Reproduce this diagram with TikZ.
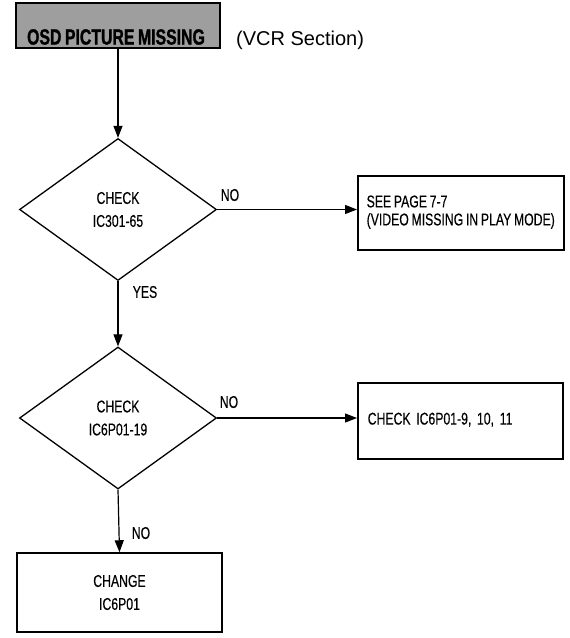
\documentclass[tikz,border=0pt]{standalone}
\usepackage{fontspec}
\setmainfont{Liberation Sans}
\newfontfamily\cond[FakeStretch=0.72,WordSpace=0.8,FakeBold=0.3]{Liberation Sans}
\newfontfamily\titlef[FakeStretch=0.72,FakeBold=1.2,WordSpace=0.8]{Liberation Sans Bold}
\usetikzlibrary{shapes.geometric,arrows.meta}
\begin{document}
\begin{tikzpicture}[x=1pt,y=-1pt,
  every node/.style={font=\cond\fontsize{17}{19}\selectfont},
  arr/.style={line width=1.2pt,-{Triangle[length=12pt,width=9pt]}},
  box/.style={draw,line width=1.5pt,rectangle,inner sep=0pt},
  dia/.style={draw,line width=1.3pt,diamond,minimum width=197pt,minimum height=142pt,inner sep=0pt,align=center,font=\cond\fontsize{17}{23}\selectfont},
  lbl/.style={font=\cond\fontsize{17}{19}\selectfont,inner sep=0pt}]
\useasboundingbox (0,0) rectangle (570,638);
% title
\node[box, fill=black!38, line width=2pt, minimum width=204pt, minimum height=45pt] (title) at (118,25.5) {};
\node[inner sep=0pt, font=\titlef\fontsize{22}{24}\selectfont] (titletext) at (116,37) {OSD PICTURE MISSING};
\node[font=\fontsize{20}{22}\selectfont, anchor=west, inner sep=0pt] (vcr) at (236,40) {(VCR Section)};
% decisions
\node[dia] (d1) at (118,209.5) {CHECK\\IC301-65};
\node[dia] (d2) at (118,418) {CHECK\\IC6P01-19};
% boxes
\node[box, anchor=north west, minimum width=206pt, minimum height=74pt, font=\cond\fontsize{17}{18}\selectfont] (b1) at (357,175) {\begin{tabular}{@{}l@{}}SEE PAGE 7-7\\(VIDEO MISSING IN PLAY MODE)\end{tabular}};
\node[box, anchor=north west, minimum width=205pt, minimum height=76pt, text width=185pt, inner xsep=10pt] (b2) at (357,382) {\begin{tabular}{@{}l@{}}CHECK IC6P01-9, 10, 11\end{tabular}};
\node[box, minimum width=205pt, minimum height=79pt, align=center, font=\cond\fontsize{17}{23}\selectfont] (b3) at (119.5,592.5) {CHANGE\\IC6P01};
% connectors
\draw[arr] (title.south) -- (d1.north);
\draw[arr] (d1.east) -- (d1.east -| b1.west);
\draw[arr] (d1.south) -- (d2.north);
\draw[arr] (d2.east) -- (d2.east -| b2.west);
\draw[arr] (d2.south) -- (b3.north);
% labels
\node[lbl] (no1) at (230,195) {NO};
\node[lbl] (yes) at (145,292) {YES};
\node[lbl] (no2) at (229,402) {NO};
\node[lbl] (no3) at (141,533) {NO};
\end{tikzpicture}
\end{document}
